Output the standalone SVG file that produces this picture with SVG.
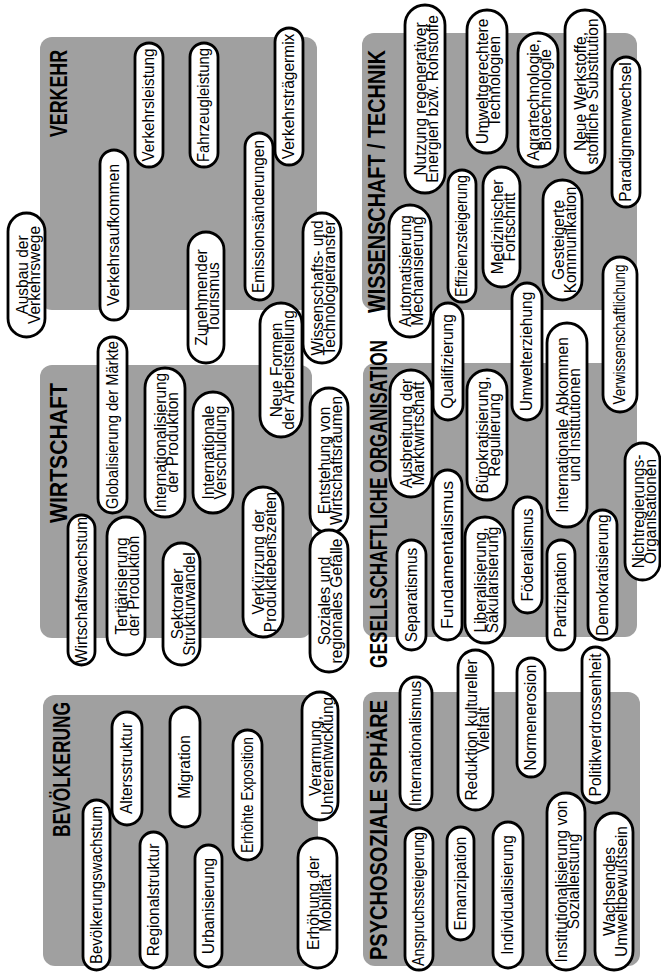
<svg xmlns="http://www.w3.org/2000/svg" width="661" height="972" viewBox="0 0 661 972">
<style>
.bg{fill:#ffffff}
.panel{fill:#a0a0a0}
.p{fill:#ffffff;stroke:#000000;stroke-width:2.8}
.t{font-family:"Liberation Sans",Arial,sans-serif;font-size:15.5px;text-anchor:middle;fill:#000000}
.h{font-family:"Liberation Sans",Arial,sans-serif;font-size:23px;font-weight:bold;text-anchor:middle;fill:#000000}
</style>
<rect class="bg" x="0" y="0" width="661" height="972"/>

<!-- panels -->
<g id="panel-verkehr"><rect class="panel" x="40" y="37" width="277" height="273" rx="12"/><g transform="translate(67,93.5) rotate(-90)"><text class="h" textLength="87" lengthAdjust="spacingAndGlyphs">VERKEHR</text></g></g>
<g id="panel-wirtschaft"><rect class="panel" x="40" y="365" width="272" height="273" rx="12"/><g transform="translate(67,453) rotate(-90)"><text class="h" textLength="140" lengthAdjust="spacingAndGlyphs">WIRTSCHAFT</text></g></g>
<g id="panel-wissenschaft"><rect class="panel" x="362" y="33" width="275" height="277" rx="12"/><g transform="translate(385,181.5) rotate(-90)"><text class="h" textLength="263" lengthAdjust="spacingAndGlyphs">WISSENSCHAFT / TECHNIK</text></g></g>
<g id="panel-gesellschaft"><rect class="panel" x="363" y="363" width="274" height="274" rx="12"/><g transform="translate(387,504) rotate(-90)"><text class="h" textLength="328" lengthAdjust="spacingAndGlyphs">GESELLSCHAFTLICHE ORGANISATION</text></g></g>
<g id="panel-bevoelkerung"><rect class="panel" x="43" y="695" width="275" height="271" rx="12"/><g transform="translate(70,769.5) rotate(-90)"><text class="h" textLength="135" lengthAdjust="spacingAndGlyphs">BEVÖLKERUNG</text></g></g>
<g id="panel-psychosozial"><rect class="panel" x="363" y="692" width="277" height="274" rx="12"/><g transform="translate(387,830) rotate(-90)"><text class="h" textLength="260" lengthAdjust="spacingAndGlyphs">PSYCHOSOZIALE SPHÄRE</text></g></g>

<g id="connectors"></g>

<!-- VERKEHR -->
<g id="n-ausbau"><rect class="p" x="8" y="213" width="37" height="124" rx="18.5"/><g transform="translate(26.5,275) rotate(-90) scale(1,1.12)"><text class="t"><tspan x="0" y="1">Ausbau der</tspan><tspan x="0" y="11.8">Verkehrswege</tspan></text></g></g>
<g id="n-aufkommen"><rect class="p" x="100" y="150" width="28" height="170" rx="14"/><g transform="translate(114,235) rotate(-90) scale(1,1.12)"><text class="t" y="4.5">Verkehrsaufkommen</text></g></g>
<g id="n-verkehrsleistung"><rect class="p" x="135" y="43" width="28" height="124" rx="14"/><g transform="translate(149,105) rotate(-90) scale(1,1.12)"><text class="t" y="4.5" textLength="113" lengthAdjust="spacingAndGlyphs">Verkehrsleistung</text></g></g>
<g id="n-fahrzeugleistung"><rect class="p" x="190" y="43" width="28" height="124" rx="14"/><g transform="translate(204,105) rotate(-90) scale(1,1.12)"><text class="t" y="4.5" textLength="114" lengthAdjust="spacingAndGlyphs">Fahrzeugleistung</text></g></g>
<g id="n-tourismus"><rect class="p" x="188" y="232" width="36" height="131" rx="18"/><g transform="translate(206,297.5) rotate(-90) scale(1,1.12)"><text class="t"><tspan x="0" y="1">Zunehmender</tspan><tspan x="0" y="11.8">Tourismus</tspan></text></g></g>
<g id="n-emission"><rect class="p" x="245" y="133" width="28" height="167" rx="14"/><g transform="translate(259,216.5) rotate(-90) scale(1,1.12)"><text class="t" y="4.5">Emissionsänderungen</text></g></g>
<g id="n-traegermix"><rect class="p" x="275" y="28" width="28" height="137" rx="14"/><g transform="translate(289,96.5) rotate(-90) scale(1,1.12)"><text class="t" y="4.5">Verkehrsträgermix</text></g></g>
<g id="n-transfer"><rect class="p" x="303" y="213" width="38" height="150" rx="19"/><g transform="translate(322,288) rotate(-90) scale(1,1.12)"><text class="t"><tspan x="0" y="1">Wissenschafts- und</tspan><tspan x="0" y="11.8">Technologietransfer</tspan></text></g></g>
<g id="n-arbeitsteilung"><rect class="p" x="260" y="303" width="42" height="134" rx="21"/><g transform="translate(281,370) rotate(-90) scale(1,1.12)"><text class="t"><tspan x="0" y="1">Neue Formen</tspan><tspan x="0" y="11.8">der Arbeitsteilung</tspan></text></g></g>

<!-- WIRTSCHAFT -->
<g id="n-wirtschaftswachstum"><rect class="p" x="68" y="515" width="27" height="150" rx="13.5"/><g transform="translate(81.5,590) rotate(-90) scale(1,1.12)"><text class="t" y="4.5">Wirtschaftswachstum</text></g></g>
<g id="n-globalisierung"><rect class="p" x="98" y="337" width="29" height="176" rx="14.5"/><g transform="translate(112.5,425) rotate(-90) scale(1,1.12)"><text class="t" y="4.5" textLength="168" lengthAdjust="spacingAndGlyphs">Globalisierung der Märkte</text></g></g>
<g id="n-tertiaer"><rect class="p" x="107" y="517" width="38" height="138" rx="19"/><g transform="translate(126,586) rotate(-90) scale(1,1.12)"><text class="t"><tspan x="0" y="1">Tertiärisierung</tspan><tspan x="0" y="11.8">der Produktion</tspan></text></g></g>
<g id="n-internationalisierung"><rect class="p" x="145" y="368" width="40" height="149" rx="20"/><g transform="translate(165,442.5) rotate(-90) scale(1,1.12)"><text class="t"><tspan x="0" y="1">Internationalisierung</tspan><tspan x="0" y="11.8">der Produktion</tspan></text></g></g>
<g id="n-sektoral"><rect class="p" x="163" y="543" width="37" height="122" rx="18.5"/><g transform="translate(181.5,604) rotate(-90) scale(1,1.12)"><text class="t"><tspan x="0" y="1">Sektoraler</tspan><tspan x="0" y="11.8">Strukturwandel</tspan></text></g></g>
<g id="n-verschuldung"><rect class="p" x="193" y="392" width="40" height="121" rx="20"/><g transform="translate(213,452.5) rotate(-90) scale(1,1.12)"><text class="t"><tspan x="0" y="1">Internationale</tspan><tspan x="0" y="11.8">Verschuldung</tspan></text></g></g>
<g id="n-verkuerzung"><rect class="p" x="243" y="487" width="40" height="150" rx="20"/><g transform="translate(263,562) rotate(-90) scale(1,1.12)"><text class="t"><tspan x="0" y="1">Verkürzung der</tspan><tspan x="0" y="11.8">Produktlebenszeiten</tspan></text></g></g>
<g id="n-entstehung"><rect class="p" x="310" y="388" width="38" height="145" rx="19"/><g transform="translate(329,460.5) rotate(-90) scale(1,1.12)"><text class="t"><tspan x="0" y="1">Entstehung von</tspan><tspan x="0" y="11.8">Wirtschaftsräumen</tspan></text></g></g>
<g id="n-soziales"><rect class="p" x="310" y="530" width="38" height="142" rx="19"/><g transform="translate(329,601) rotate(-90) scale(1,1.12)"><text class="t"><tspan x="0" y="1">Soziales und</tspan><tspan x="0" y="11.8">regionales Gefälle</tspan></text></g></g>

<!-- GESELLSCHAFTLICHE ORGANISATION -->
<g id="n-ausbreitung"><rect class="p" x="390" y="370" width="42" height="127" rx="21"/><g transform="translate(411,433.5) rotate(-90) scale(1,1.12)"><text class="t"><tspan x="0" y="1">Ausbreitung der</tspan><tspan x="0" y="11.8">Marktwirtschaft</tspan></text></g></g>
<g id="n-separatismus"><rect class="p" x="397" y="540" width="29" height="110" rx="14.5"/><g transform="translate(411.5,595) rotate(-90) scale(1,1.12)"><text class="t" y="4.5">Separatismus</text></g></g>
<g id="n-qualifizierung"><rect class="p" x="433" y="303" width="30" height="117" rx="15"/><g transform="translate(448,361.5) rotate(-90) scale(1,1.12)"><text class="t" y="4.5">Qualifizierung</text></g></g>
<g id="n-fundamentalismus"><rect class="p" x="433" y="470" width="29" height="170" rx="14.5"/><g transform="translate(447.5,555) rotate(-90) scale(1,1.12)"><text class="t" y="4.5" textLength="148" lengthAdjust="spacingAndGlyphs">Fundamentalismus</text></g></g>
<g id="n-buerokratisierung"><rect class="p" x="467" y="370" width="40" height="130" rx="20"/><g transform="translate(487,435) rotate(-90) scale(1,1.12)"><text class="t"><tspan x="0" y="1">Bürokratisierung,</tspan><tspan x="0" y="11.8">Regulierung</tspan></text></g></g>
<g id="n-liberalisierung"><rect class="p" x="465" y="517" width="40" height="126" rx="20"/><g transform="translate(485,580) rotate(-90) scale(1,1.12)"><text class="t"><tspan x="0" y="1">Liberalisierung,</tspan><tspan x="0" y="11.8">Säkularisierung</tspan></text></g></g>
<g id="n-umwelterziehung"><rect class="p" x="512" y="283" width="30" height="137" rx="15"/><g transform="translate(527,351.5) rotate(-90) scale(1,1.12)"><text class="t" y="4.5">Umwelterziehung</text></g></g>
<g id="n-foederalismus"><rect class="p" x="513" y="497" width="29" height="116" rx="14.5"/><g transform="translate(527.5,555) rotate(-90) scale(1,1.12)"><text class="t" y="4.5">Föderalismus</text></g></g>
<g id="n-abkommen"><rect class="p" x="547" y="323" width="40" height="204" rx="20"/><g transform="translate(567,425) rotate(-90) scale(1,1.12)"><text class="t"><tspan x="0" y="1">Internationale Abkommen</tspan><tspan x="0" y="11.8">und Institutionen</tspan></text></g></g>
<g id="n-partizipation"><rect class="p" x="547" y="540" width="28" height="110" rx="14"/><g transform="translate(561,595) rotate(-90) scale(1,1.12)"><text class="t" y="4.5">Partizipation</text></g></g>
<g id="n-demokratisierung"><rect class="p" x="588" y="510" width="29" height="130" rx="14.5"/><g transform="translate(602.5,575) rotate(-90) scale(1,1.12)"><text class="t" y="4.5">Demokratisierung</text></g></g>
<g id="n-verwissenschaftlichung"><rect class="p" x="603" y="257" width="34" height="155" rx="17"/><g transform="translate(620,334.5) rotate(-90) scale(1,1.12)"><text class="t" y="4.5" textLength="140" lengthAdjust="spacingAndGlyphs">Verwissenschaftlichung</text></g></g>
<g id="n-nichtregierung"><rect class="p" x="625" y="443" width="35" height="137" rx="17.5"/><g transform="translate(642.5,511.5) rotate(-90) scale(1,1.12)"><text class="t"><tspan x="0" y="1">Nichtregierungs-</tspan><tspan x="0" y="11.8">Organisationen</tspan></text></g></g>

<!-- WISSENSCHAFT / TECHNIK -->
<g id="n-nutzung"><rect class="p" x="405" y="5" width="40" height="188" rx="20"/><g transform="translate(425,99) rotate(-90) scale(1,1.12)"><text class="t"><tspan x="0" y="1">Nutzung regenerativer</tspan><tspan x="0" y="11.8">Energien bzw. Rohstoffe</tspan></text></g></g>
<g id="n-automatisierung"><rect class="p" x="389" y="205" width="42" height="132" rx="21"/><g transform="translate(410,271) rotate(-90) scale(1,1.12)"><text class="t"><tspan x="0" y="1">Automatisierung</tspan><tspan x="0" y="11.8">Mechanisierung</tspan></text></g></g>
<g id="n-effizienz"><rect class="p" x="448" y="170" width="28" height="132" rx="14"/><g transform="translate(462,236) rotate(-90) scale(1,1.12)"><text class="t" y="4.5" textLength="122" lengthAdjust="spacingAndGlyphs">Effizienzsteigerung</text></g></g>
<g id="n-umweltgerecht"><rect class="p" x="467" y="10" width="40" height="143" rx="20"/><g transform="translate(487,81.5) rotate(-90) scale(1,1.12)"><text class="t"><tspan x="0" y="1">Umweltgerechtere</tspan><tspan x="0" y="11.8">Technologien</tspan></text></g></g>
<g id="n-medizin"><rect class="p" x="483" y="167" width="37" height="120" rx="18.5"/><g transform="translate(501.5,227) rotate(-90) scale(1,1.12)"><text class="t"><tspan x="0" y="1">Medizinischer</tspan><tspan x="0" y="11.8">Fortschritt</tspan></text></g></g>
<g id="n-agrar"><rect class="p" x="518" y="33" width="40" height="134" rx="20"/><g transform="translate(538,100) rotate(-90) scale(1,1.12)"><text class="t"><tspan x="0" y="1">Agrartechnologie,</tspan><tspan x="0" y="11.8">Biotechnologie</tspan></text></g></g>
<g id="n-kommunikation"><rect class="p" x="543" y="180" width="39" height="120" rx="19.5"/><g transform="translate(562.5,240) rotate(-90) scale(1,1.12)"><text class="t"><tspan x="0" y="1">Gesteigerte</tspan><tspan x="0" y="11.8">Kommunikation</tspan></text></g></g>
<g id="n-werkstoffe"><rect class="p" x="565" y="10" width="40" height="163" rx="20"/><g transform="translate(585,91.5) rotate(-90) scale(1,1.12)"><text class="t"><tspan x="0" y="1">Neue Werkstoffe,</tspan><tspan x="0" y="11.8">stoffliche Substitution</tspan></text></g></g>
<g id="n-paradigmen"><rect class="p" x="612" y="57" width="28" height="150" rx="14"/><g transform="translate(626,132) rotate(-90) scale(1,1.12)"><text class="t" y="4.5">Paradigmenwechsel</text></g></g>

<!-- BEVÖLKERUNG -->
<g id="n-bevwachstum"><rect class="p" x="83" y="800" width="27" height="170" rx="13.5"/><g transform="translate(96.5,885) rotate(-90) scale(1,1.12)"><text class="t" y="4.5" textLength="158" lengthAdjust="spacingAndGlyphs">Bevölkerungswachstum</text></g></g>
<g id="n-altersstruktur"><rect class="p" x="112" y="712" width="30" height="113" rx="15"/><g transform="translate(127,768.5) rotate(-90) scale(1,1.12)"><text class="t" y="4.5">Altersstruktur</text></g></g>
<g id="n-regionalstruktur"><rect class="p" x="140" y="832" width="27" height="136" rx="13.5"/><g transform="translate(153.5,900) rotate(-90) scale(1,1.12)"><text class="t" y="4.5">Regionalstruktur</text></g></g>
<g id="n-migration"><rect class="p" x="170" y="707" width="30" height="120" rx="15"/><g transform="translate(185,767) rotate(-90) scale(1,1.12)"><text class="t" y="4.5">Migration</text></g></g>
<g id="n-urbanisierung"><rect class="p" x="195" y="845" width="27" height="122" rx="13.5"/><g transform="translate(208.5,906) rotate(-90) scale(1,1.12)"><text class="t" y="4.5">Urbanisierung</text></g></g>
<g id="n-exposition"><rect class="p" x="233" y="730" width="29" height="130" rx="14.5"/><g transform="translate(247.5,795) rotate(-90) scale(1,1.12)"><text class="t" y="4.5" textLength="116" lengthAdjust="spacingAndGlyphs">Erhöhte Exposition</text></g></g>
<g id="n-mobilitaet"><rect class="p" x="298" y="838" width="39" height="130" rx="19.5"/><g transform="translate(317.5,903) rotate(-90) scale(1,1.12)"><text class="t"><tspan x="0" y="1">Erhöhung der</tspan><tspan x="0" y="11.8">Mobilität</tspan></text></g></g>
<g id="n-verarmung"><rect class="p" x="302" y="692" width="36" height="128" rx="18"/><g transform="translate(320,756) rotate(-90) scale(1,1.12)"><text class="t"><tspan x="0" y="1">Verarmung,</tspan><tspan x="0" y="11.8" textLength="118" lengthAdjust="spacingAndGlyphs">Unterentwicklung</tspan></text></g></g>

<!-- PSYCHOSOZIALE SPHÄRE -->
<g id="n-internationalismus"><rect class="p" x="400" y="677" width="32" height="133" rx="16"/><g transform="translate(416,743.5) rotate(-90) scale(1,1.12)"><text class="t" y="4.5">Internationalismus</text></g></g>
<g id="n-anspruch"><rect class="p" x="405" y="828" width="28" height="142" rx="14"/><g transform="translate(419,899) rotate(-90) scale(1,1.12)"><text class="t" y="4.5" textLength="134" lengthAdjust="spacingAndGlyphs">Anspruchssteigerung</text></g></g>
<g id="n-reduktion"><rect class="p" x="458" y="650" width="35" height="160" rx="17.5"/><g transform="translate(475.5,730) rotate(-90) scale(1,1.12)"><text class="t"><tspan x="0" y="1">Reduktion kultureller</tspan><tspan x="0" y="11.8">Vielfalt</tspan></text></g></g>
<g id="n-emanzipation"><rect class="p" x="447" y="827" width="27" height="113" rx="13.5"/><g transform="translate(460.5,883.5) rotate(-90) scale(1,1.12)"><text class="t" y="4.5">Emanzipation</text></g></g>
<g id="n-normenerosion"><rect class="p" x="517" y="658" width="28" height="119" rx="14"/><g transform="translate(531,717.5) rotate(-90) scale(1,1.12)"><text class="t" y="4.5">Normenerosion</text></g></g>
<g id="n-individualisierung"><rect class="p" x="493" y="822" width="30" height="146" rx="15"/><g transform="translate(508,895) rotate(-90) scale(1,1.12)"><text class="t" y="4.5">Individualisierung</text></g></g>
<g id="n-politik"><rect class="p" x="582" y="647" width="27" height="156" rx="13.5"/><g transform="translate(595.5,725) rotate(-90) scale(1,1.12)"><text class="t" y="4.5">Politikverdrossenheit</text></g></g>
<g id="n-institution"><rect class="p" x="547" y="793" width="38" height="177" rx="19"/><g transform="translate(566,881.5) rotate(-90) scale(1,1.12)"><text class="t"><tspan x="0" y="1">Institutionalisierung von</tspan><tspan x="0" y="11.8">Sozialleistung</tspan></text></g></g>
<g id="n-umweltbewusstsein"><rect class="p" x="595" y="813" width="38" height="157" rx="19"/><g transform="translate(614,891.5) rotate(-90) scale(1,1.12)"><text class="t"><tspan x="0" y="1">Wachsendes</tspan><tspan x="0" y="11.8">Umweltbewußtsein</tspan></text></g></g>
</svg>
